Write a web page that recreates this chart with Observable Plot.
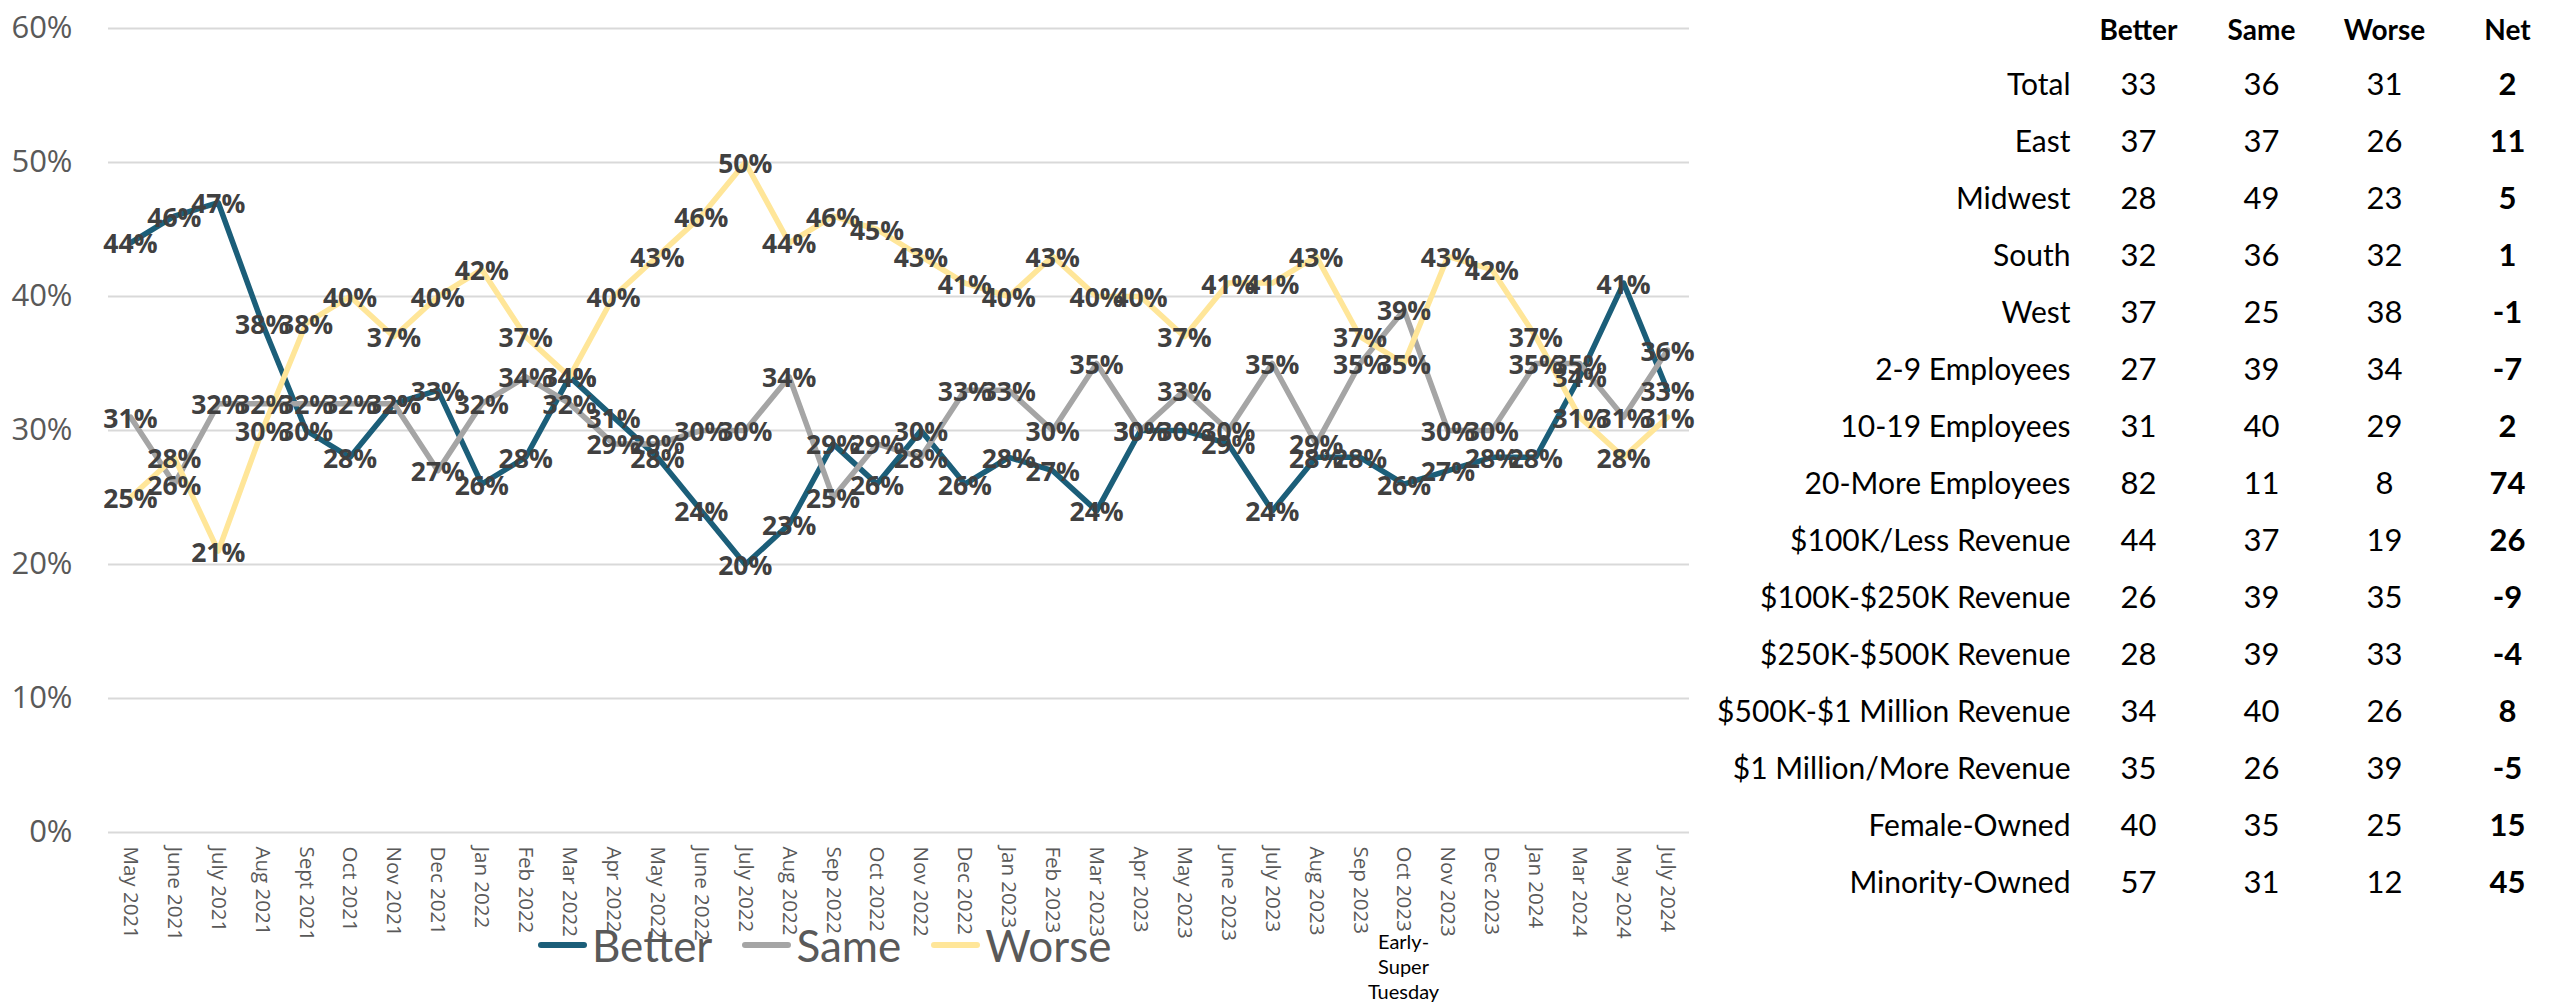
<!DOCTYPE html>
<html>
<head>
<meta charset="utf-8">
<script src="https://cdn.jsdelivr.net/npm/d3@7"></script>
<script src="https://cdn.jsdelivr.net/npm/@observablehq/plot@0.6"></script>
<style>
  html, body { margin: 0; padding: 0; background: #ffffff; }
  #page { position: relative; width: 2552px; height: 1008px; overflow: hidden; background: #ffffff; }
  #chart { position: absolute; left: 0; top: 0; }
  #table { position: absolute; left: 1700px; top: 0; }
  #legend { position: absolute; left: 538px; top: 917px; height: 56px; display: flex; align-items: center; gap: 30px;
            font-family: Lato, "Open Sans", sans-serif; font-size: 44px; color: #595959; }
  .item { display: flex; align-items: center; gap: 5px; }
  .swatch { width: 49px; height: 6px; border-radius: 3px; }
  #note { position: absolute; top: 929px; width: 120px; text-align: center; font-family: Lato, sans-serif;
          font-size: 20px; line-height: 25px; color: #000; }
</style>
</head>
<body>
<div id="page">
  <div id="chart"></div>
  <div id="table"></div>
  <div id="legend"></div>
  <div id="note"></div>
</div>
<script>
// ---------- chart data ----------
const months = ["May 2021","June 2021","July 2021","Aug 2021","Sept 2021","Oct 2021","Nov 2021","Dec 2021",
  "Jan 2022","Feb 2022","Mar 2022","Apr 2022","May 2022","June 2022","July 2022","Aug 2022","Sep 2022","Oct 2022",
  "Nov 2022","Dec 2022","Jan 2023","Feb 2023","Mar 2023","Apr 2023","May 2023","June 2023","July 2023","Aug 2023",
  "Sep 2023","Oct 2023","Nov 2023","Dec 2023","Jan 2024","Mar 2024","May 2024","July 2024"];
const better = [44,46,47,38,30,28,32,33,26,28,34,31,28,24,20,23,29,26,30,26,28,27,24,30,30,29,24,28,28,26,27,28,28,34,41,33];
const same   = [31,26,32,32,32,32,32,27,32,34,32,29,29,30,30,34,25,29,28,33,33,30,35,30,33,30,35,29,35,39,30,30,35,35,31,36];
const worse  = [25,28,21,30,38,40,37,40,42,37,34,40,43,46,50,44,46,45,43,41,40,43,40,40,37,41,41,43,37,35,43,42,37,31,28,31];
const seriesNames = ["Better","Same","Worse"];
const seriesColors = ["#1b5e79","#a5a5a5","#ffe699"];
const yTicks = [0,10,20,30,40,50,60];
const annotation = {month: "Oct 2023", lines: ["Early-","Super","Tuesday"]};

// ---------- table data ----------
const groups = ["Total","East","Midwest","South","West","2-9 Employees","10-19 Employees","20-More Employees",
  "$100K/Less Revenue","$100K-$250K Revenue","$250K-$500K Revenue","$500K-$1 Million Revenue",
  "$1 Million/More Revenue","Female-Owned","Minority-Owned"];
const columns = ["Better","Same","Worse","Net"];
const tBetter = [33,37,28,32,37,27,31,82,44,26,28,34,35,40,57];
const tSame   = [36,37,49,36,25,39,40,11,37,39,39,40,26,35,31];
const tWorse  = [31,26,23,32,38,34,29,8,19,35,33,26,39,25,12];
const tNet    = [2,11,5,1,-1,-7,2,74,26,-9,-4,8,-5,15,45];

// ---------- build records ----------
const seriesValues = [better, same, worse];
const records = [];
seriesNames.forEach((s, si) => months.forEach((m, i) => records.push({series: s, month: m, value: seriesValues[si][i]})));

const chart = Plot.plot({
  width: 1700,
  height: 945,
  marginLeft: 108,
  marginRight: 11,
  marginTop: 28,
  marginBottom: 113,
  style: {fontFamily: "'Open Sans', sans-serif", color: "#595959", background: "transparent"},
  x: {type: "point", domain: months, padding: 0.5},
  y: {domain: [0, 60]},
  color: {domain: seriesNames, range: seriesColors},
  marks: [
    Plot.ruleY(yTicks, {stroke: "#d9d9d9", strokeWidth: 2}),
    Plot.axisY({ticks: yTicks, tickFormat: d => d + "%", tickSize: 0, tickPadding: 36, fontSize: 31, label: null}),
    Plot.axisX({tickRotate: 90, tickSize: 0, tickPadding: 14, fontSize: 20.5, label: null}),
    Plot.line(records, {x: "month", y: "value", z: "series", stroke: "series", strokeWidth: 5.5,
      strokeLinejoin: "round", strokeLinecap: "round"}),
    Plot.text(records, {x: "month", y: "value", text: d => d.value + "%", fontSize: 26.5, fontWeight: "bold",
      fill: "#404040", fontFamily: "'Open Sans', sans-serif", dy: 2})
  ]
});
document.getElementById("chart").appendChild(chart);

// legend
const legend = document.getElementById("legend");
seriesNames.forEach((s, i) => {
  const item = document.createElement("div");
  item.className = "item";
  const sw = document.createElement("div");
  sw.className = "swatch";
  sw.style.background = seriesColors[i];
  const tx = document.createElement("span");
  tx.textContent = s;
  item.appendChild(sw); item.appendChild(tx);
  legend.appendChild(item);
});

// annotation under a tick
const note = document.getElementById("note");
note.innerHTML = annotation.lines.join("<br>");
note.style.left = (chart.scale("x").apply(annotation.month) - 60) + "px";

// table
const cells = [];
const tVals = [tBetter, tSame, tWorse];
groups.forEach((g, i) => columns.slice(0, 3).forEach((c, ci) => cells.push({group: g, col: c, value: tVals[ci][i]})));
const netCells = groups.map((g, i) => ({group: g, col: "Net", value: tNet[i]}));

const table = Plot.plot({
  width: 852,
  height: 1008,
  marginLeft: 437,
  marginRight: 44,
  marginTop: 81,
  marginBottom: 122,
  style: {fontFamily: "Lato, sans-serif", color: "#000", background: "transparent"},
  x: {type: "point", domain: columns, padding: 0, axis: null},
  y: {type: "point", domain: groups, padding: 0, axis: null},
  marks: [
    Plot.text(columns, {x: d => d, frameAnchor: "top", dy: -61, fontSize: 28, fontWeight: "bold", fill: "#000"}),
    Plot.text(groups, {y: d => d, frameAnchor: "left", dx: -67, textAnchor: "end", fontSize: 30, fill: "#000"}),
    Plot.text(cells, {x: "col", y: "group", text: d => String(d.value), fontSize: 31, fill: "#000"}),
    Plot.text(netCells, {x: "col", y: "group", text: d => String(d.value), fontSize: 31, fontWeight: "bold", fill: "#000"})
  ]
});
document.getElementById("table").appendChild(table);
</script>
</body>
</html>
